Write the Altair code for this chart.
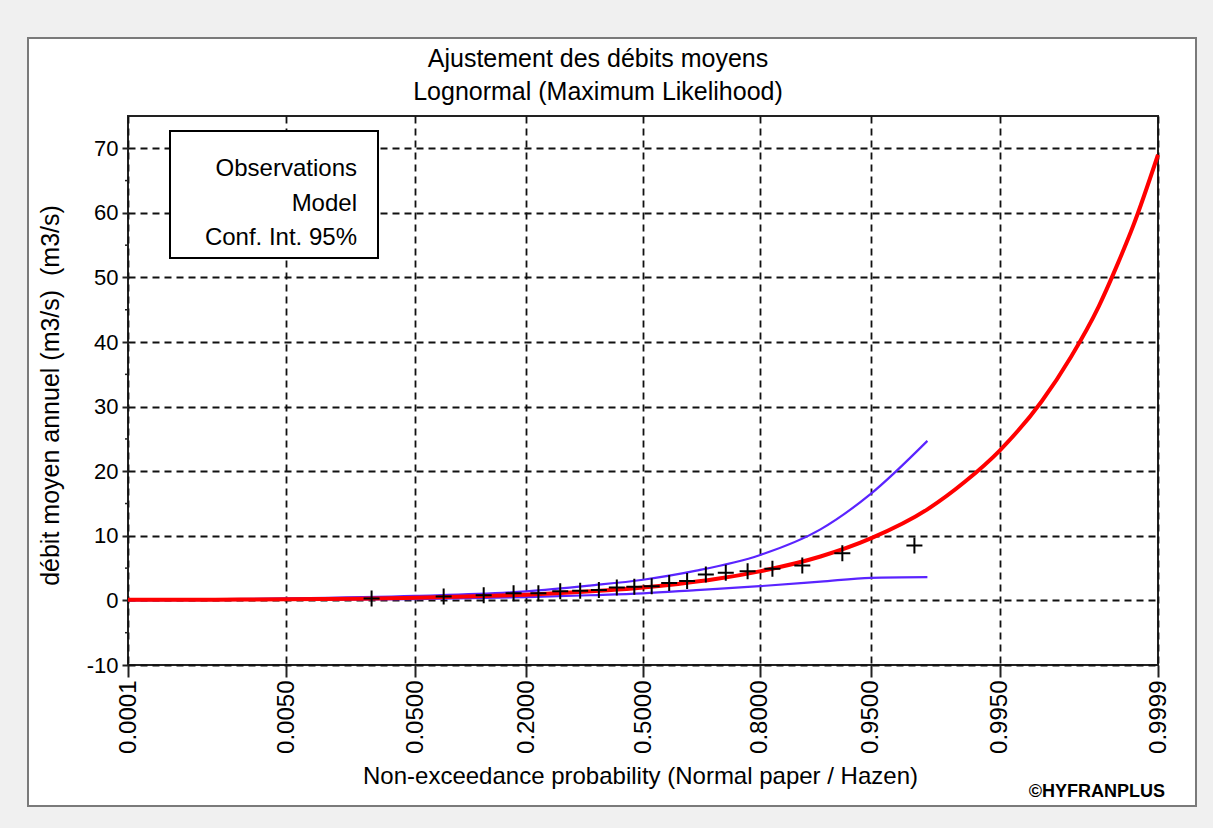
import altair as alt
import pandas as pd
from statistics import NormalDist

FONT = "Liberation Sans, Arial, Helvetica, sans-serif"

# ---------------- data ----------------
PROB_TICKS = [0.0001, 0.005, 0.05, 0.2, 0.5, 0.8, 0.95, 0.995, 0.9999]
Y_TICKS = [-10, 0, 10, 20, 30, 40, 50, 60, 70]
Y_MINOR = [-5, 5, 15, 25, 35, 45, 55, 65]

# observations (Hazen plotting positions, n = 20)
OBS_P = [0.025, 0.075, 0.125, 0.175, 0.225, 0.275, 0.325, 0.375, 0.425, 0.475,
         0.525, 0.575, 0.625, 0.675, 0.725, 0.775, 0.825, 0.875, 0.925, 0.975]
OBS_Q = [0.3, 0.6, 0.8, 1.1, 1.1, 1.4, 1.5, 1.6, 2.0, 2.1,
         2.2, 2.7, 3.0, 4.0, 4.3, 4.5, 4.9, 5.4, 7.3, 8.5]

# fitted lognormal model (red curve)
MODEL_P = [0.0001, 0.001, 0.005, 0.02, 0.05, 0.1, 0.2, 0.3, 0.4, 0.5, 0.6, 0.7,
           0.8, 0.9, 0.95, 0.98, 0.99, 0.995, 0.998, 0.999, 0.9995, 0.9997,
           0.9998, 0.9999]
MODEL_Q = [0.1, 0.12, 0.18, 0.27, 0.42, 0.59, 0.89, 1.21, 1.57, 2.0, 2.55, 3.3,
           4.5, 6.8, 9.6, 14.1, 18.4, 23.2, 30.8, 37.7, 45.5, 52.3,
           58.0, 69.0]

# 95 % confidence interval (blue curves)
CI_P = [0.0001, 0.005, 0.05, 0.2, 0.35, 0.5, 0.65, 0.8, 0.9, 0.95, 0.98]
CI_UPPER = [0.1, 0.3, 0.7, 1.4, 2.3, 3.2, 4.6, 7.0, 11.0, 16.5, 24.7]
CI_LOWER = [0.02, 0.1, 0.2, 0.5, 0.8, 1.1, 1.6, 2.2, 2.9, 3.5, 3.6]

LEGEND_LABELS = ["Observations", "Model", "Conf. Int. 95%"]

TITLE_LINES = ["Ajustement des débits moyens", "Lognormal (Maximum Likelihood)"]
X_TITLE = "Non-exceedance probability (Normal paper / Hazen)"
Y_TITLE = "débit moyen annuel (m3/s) \u00a0(m3/s)"
COPYRIGHT = "©HYFRANPLUS"

# ---------------- tables ----------------
obs_df = pd.DataFrame({"p": OBS_P, "q": OBS_Q})
model_df = pd.DataFrame({"p": MODEL_P, "q": MODEL_Q})
ci_df = pd.concat([
    pd.DataFrame({"p": CI_P, "q": CI_UPPER, "bound": "upper"}),
    pd.DataFrame({"p": CI_P, "q": CI_LOWER, "bound": "lower"}),
])
minor_df = pd.DataFrame({"q": Y_MINOR})
one = pd.DataFrame({"k": [0]})

nd = NormalDist()
z_ticks = [nd.inv_cdf(p) for p in PROB_TICKS]

# ---------------- layout ----------------
W, H = 1030, 549
PAD_L, PAD_T = 128, 116
PAD_R = 1213 - PAD_L - W
PAD_B = 828 - PAD_T - H

x_scale = alt.Scale(domain=[z_ticks[0], z_ticks[-1]], nice=False, zero=False)
y_scale = alt.Scale(domain=[-10, 75], nice=False, zero=False)

x_axis = alt.Axis(
    values=z_ticks,
    labelExpr="format(cumulativeNormal(datum.value), '.4f')",
    labelAngle=270, labelFontSize=24, labelFont=FONT, labelColor="black",
    labelPadding=3, labelFlush=False, labelOverlap=False,
    tickSize=12, tickWidth=2, tickColor="#222",
    grid=True, gridDash=[7, 5], gridColor="#111", gridWidth=1.8,
    domain=False,
    title=X_TITLE, titleFont=FONT, titleFontSize=24, titleFontWeight="normal",
    titleColor="black", titleX=512, titleY=118, titleAlign="center",
    titleBaseline="alphabetic",
)
y_axis = alt.Axis(
    values=Y_TICKS, labelExpr="'' + datum.value",
    labelFontSize=22, labelFont=FONT, labelColor="black", labelPadding=4,
    tickSize=6, tickWidth=2, tickColor="#222",
    grid=True, gridDash=[7, 5], gridColor="#111", gridWidth=1.8,
    domain=False,
    title=Y_TITLE, titleFont=FONT, titleFontSize=25, titleFontWeight="normal",
    titleColor="black", titleAngle=270, titleX=-70, titleY=279,
    titleAlign="center", titleBaseline="alphabetic",
)

X = alt.X("z:Q", scale=x_scale, axis=x_axis)
Y = alt.Y("q:Q", scale=y_scale, axis=y_axis)
ZCALC = "quantileNormal(datum.p)"

ci = alt.Chart(ci_df).transform_calculate(z=ZCALC).mark_line(
    color="#5a24ff", strokeWidth=2.2, interpolate="monotone"
).encode(x=X, y=Y, detail="bound:N")

model = alt.Chart(model_df).transform_calculate(z=ZCALC).mark_line(
    color="#ff0000", strokeWidth=4, interpolate="monotone"
).encode(x=X, y=Y)

obs = alt.Chart(obs_df).transform_calculate(z=ZCALC).mark_point(
    shape="M-1,0L1,0M0,-1L0,1", filled=False, stroke="black", strokeWidth=2,
    size=256, opacity=1
).encode(x=X, y=Y)

minor = alt.Chart(minor_df).mark_rule(color="#222", strokeWidth=1.5).encode(
    x=alt.value(-3), x2=alt.value(0), y=Y
)

legend_box = alt.Chart(one).mark_rect(
    fill="white", stroke="black", strokeWidth=2
).encode(x=alt.value(42), x2=alt.value(250), y=alt.value(15), y2=alt.value(142))

legend_text = alt.Chart(one).mark_text(
    align="right", baseline="alphabetic", fontSize=24, font=FONT,
    color="black", lineHeight=34.5
).encode(x=alt.value(229), y=alt.value(60), text=alt.value(LEGEND_LABELS))

title_text = alt.Chart(one).mark_text(
    align="center", baseline="alphabetic", fontSize=25, font=FONT,
    color="black", lineHeight=33
).encode(x=alt.value(470), y=alt.value(-49), text=alt.value(TITLE_LINES))

# window frame around the white panel
GRAY = "#f0f0f0"
def strip(x1, x2, y1, y2):
    return alt.Chart(one).mark_rect(fill=GRAY, strokeWidth=0).encode(
        x=alt.value(x1), x2=alt.value(x2), y=alt.value(y1), y2=alt.value(y2)
    )

strips = [
    strip(-PAD_L, W + PAD_R, -PAD_T, -78),
    strip(-PAD_L, W + PAD_R, 690, H + PAD_B),
    strip(-PAD_L, -100, -78, 690),
    strip(1068, W + PAD_R, -78, 690),
]
panel_border = alt.Chart(one).mark_rect(
    fill=None, stroke="#7a7a7a", strokeWidth=2
).encode(x=alt.value(-100), x2=alt.value(1068), y=alt.value(-78), y2=alt.value(690))

copyright_text = alt.Chart(one).mark_text(
    align="right", baseline="alphabetic", fontSize=18, font=FONT,
    fontWeight="bold", color="black"
).encode(x=alt.value(1037), y=alt.value(681), text=alt.value(COPYRIGHT))

chart = alt.layer(
    ci, model, obs, minor, legend_box, legend_text, *strips, panel_border,
    title_text, copyright_text
).properties(
    width=W, height=H,
    autosize=alt.AutoSizeParams(type="none"),
    padding={"left": PAD_L, "top": PAD_T, "right": PAD_R, "bottom": PAD_B},
    background="white",
).configure_view(stroke="#222", strokeWidth=2)

chart.save("out.html", embed_options={"renderer": "svg", "actions": False})
